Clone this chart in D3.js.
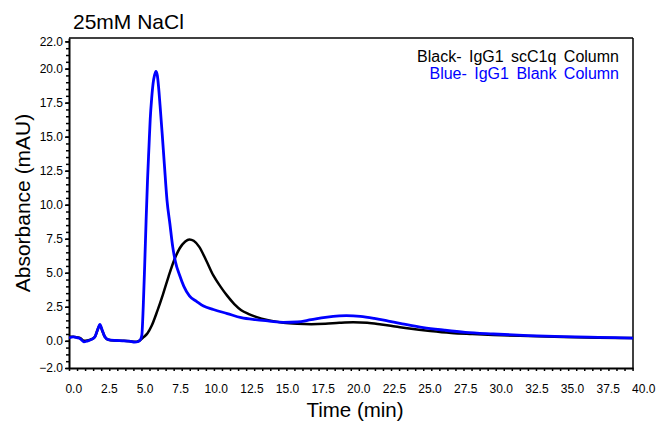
<!DOCTYPE html>
<html><head><meta charset="utf-8">
<script src="https://cdn.jsdelivr.net/npm/d3@7"></script>
<style>
body{margin:0;background:#fff}
text{font-family:"Liberation Sans",Arial,Helvetica,sans-serif}
</style></head>
<body><svg id="c" width="656" height="426"></svg>
<script>
// ---- data (time in min, absorbance in mAU) ----
const blackTime = [-0.3,0,0.29,0.49,0.74,0.98,1.28,1.52,1.72,1.87,2.01,2.21,2.46,2.95,3.44,3.93,4.32,4.62,4.91,5.21,5.50,5.90,6.29,6.68,7.07,7.47,7.86,8.15,8.45,8.84,9.33,9.83,10.32,10.81,11.30,11.79,12.28,12.77,13.76,14.74,15.72,16.70,17.69,18.67,19.65,20.63,21.62,22.60,23.58,25.05,26.53,28.00,29.48,31.93,34.39,36.84,39.28];
const blackAbs  = [0.3,0.3,0.25,0.2,0.0,0.02,0.12,0.3,0.85,1.15,0.8,0.3,0.08,0.02,0.0,-0.03,-0.08,0.0,0.25,0.55,1.1,2.2,3.4,4.7,5.9,6.8,7.3,7.45,7.35,6.9,5.9,4.8,4.0,3.3,2.7,2.25,1.98,1.78,1.5,1.33,1.25,1.22,1.25,1.32,1.36,1.33,1.2,1.05,0.9,0.72,0.58,0.5,0.43,0.35,0.28,0.23,0.2];
const blueTime  = [-0.3,0,0.29,0.49,0.74,0.98,1.28,1.52,1.72,1.87,2.01,2.21,2.46,2.95,3.44,3.93,4.32,4.57,4.72,4.81,4.91,5.01,5.11,5.21,5.31,5.40,5.50,5.60,5.70,5.80,5.90,5.99,6.09,6.24,6.39,6.58,6.78,6.98,7.17,7.47,7.76,8.15,8.65,9.14,9.83,10.81,11.79,12.77,13.76,14.74,15.72,16.70,17.69,18.67,19.16,20.14,21.12,22.11,23.09,24.56,26.04,27.51,29.48,31.93,34.39,36.84,39.28];
const blueAbs   = [0.2,0.28,0.22,0.15,-0.08,-0.02,0.1,0.3,0.85,1.2,0.85,0.3,0.08,0.02,0.0,-0.03,-0.1,-0.05,0.1,0.4,2.5,5.5,8.8,11.8,14.2,16.3,17.8,18.9,19.5,19.8,19.5,18.6,17.3,15.2,13.0,10.3,8.6,6.9,5.8,4.8,4.0,3.3,2.9,2.55,2.3,2.0,1.7,1.55,1.45,1.36,1.38,1.55,1.72,1.83,1.85,1.8,1.65,1.45,1.25,0.97,0.78,0.62,0.5,0.38,0.3,0.25,0.2];
const xTickValues = [0,2.5,5,7.5,10,12.5,15,17.5,20,22.5,25,27.5,30,32.5,35,37.5,40];
const yTickValues = [-2,0,2.5,5,7.5,10,12.5,15,17.5,20,22];
const titleText = "25mM NaCl";
const legendLabels = ["Black- IgG1 scC1q Column","Blue- IgG1 Blank Column"];
const seriesColors = ["#000000","#0000ff"];

// ---- layout ----
const L=69, R=633, T=38, B=368;
const svg = d3.select("#c");
const x = d3.scaleLinear().domain([-0.3,39.28]).range([L,R]);
const y = d3.scaleLinear().domain([-2,22.25]).range([B,T]);

svg.append("defs").append("clipPath").attr("id","clip")
  .append("rect").attr("x",L).attr("y",T-2).attr("width",R-L).attr("height",B-T+2);

// frame top/right
svg.append("line").attr("x1",L).attr("x2",R).attr("y1",T).attr("y2",T).attr("stroke","#000").attr("stroke-width",1.5);
svg.append("line").attr("x1",R).attr("x2",R).attr("y1",T).attr("y2",B).attr("stroke","#000").attr("stroke-width",1.5);

// y axis minor ticks
const yMinor = d3.range(-2,22.01,0.5);
svg.append("g").attr("transform",`translate(${L},0)`)
  .call(d3.axisLeft(y).tickValues(yMinor).tickSize(3).tickSizeOuter(0).tickFormat(""))
  .call(g=>g.select(".domain").remove())
  .call(g=>g.selectAll("line").attr("stroke-width",1.5));
// y axis major
svg.append("g").attr("transform",`translate(${L},0)`)
  .call(d3.axisLeft(y).tickValues(yTickValues).tickSize(4).tickSizeOuter(0).tickPadding(2).tickFormat(d3.format(".1f")))
  .call(g=>g.select(".domain").attr("stroke-width",2))
  .call(g=>g.selectAll("line").attr("stroke-width",1.5))
  .call(g=>g.selectAll("text").attr("font-size",12).attr("fill","#000").style("font-family",'"Liberation Sans",Arial,sans-serif'));

// x axis minor ticks
const xMinor = d3.range(-0.3,39.3,0.565);
svg.append("g").attr("transform",`translate(0,${B})`)
  .call(d3.axisBottom(x).tickValues(xMinor).tickSize(3).tickSizeOuter(0).tickFormat(""))
  .call(g=>g.select(".domain").attr("stroke-width",2))
  .call(g=>g.selectAll("line").attr("stroke-width",1.5));
// x axis labels
svg.append("g").attr("transform",`translate(0,${B})`)
  .call(d3.axisBottom(x).tickValues(xTickValues).tickSize(0).tickPadding(16).tickFormat(d3.format(".1f")))
  .call(g=>g.select(".domain").remove())
  .call(g=>g.selectAll("text").attr("font-size",12).attr("fill","#000").style("font-family",'"Liberation Sans",Arial,sans-serif'));

// lines
const line = d3.line().x(d=>x(d[0])).y(d=>y(d[1])).curve(d3.curveMonotoneX);
const plot = svg.append("g").attr("clip-path","url(#clip)");
plot.append("path").datum(d3.zip(blackTime,blackAbs)).attr("d",line)
  .attr("fill","none").attr("stroke",seriesColors[0]).attr("stroke-width",2.5).attr("stroke-linejoin","round");
plot.append("path").datum(d3.zip(blueTime,blueAbs)).attr("d",line)
  .attr("fill","none").attr("stroke",seriesColors[1]).attr("stroke-width",2.8).attr("stroke-linejoin","round");

// legend
legendLabels.forEach((t,i)=>{
  svg.append("text").attr("x",619).attr("y",62+i*17.3).attr("text-anchor","end")
    .attr("font-size",16).style("word-spacing","3px").attr("fill",seriesColors[i]).text(t);
});

// titles
svg.append("text").attr("x",73).attr("y",29).attr("font-size",21).text(titleText);
svg.append("text").attr("x",355).attr("y",417).attr("text-anchor","middle").attr("font-size",20.5).text("Time (min)");
svg.append("text").attr("transform","translate(30,203) rotate(-90)").attr("text-anchor","middle").attr("font-size",21).text("Absorbance (mAU)");
</script></body></html>
